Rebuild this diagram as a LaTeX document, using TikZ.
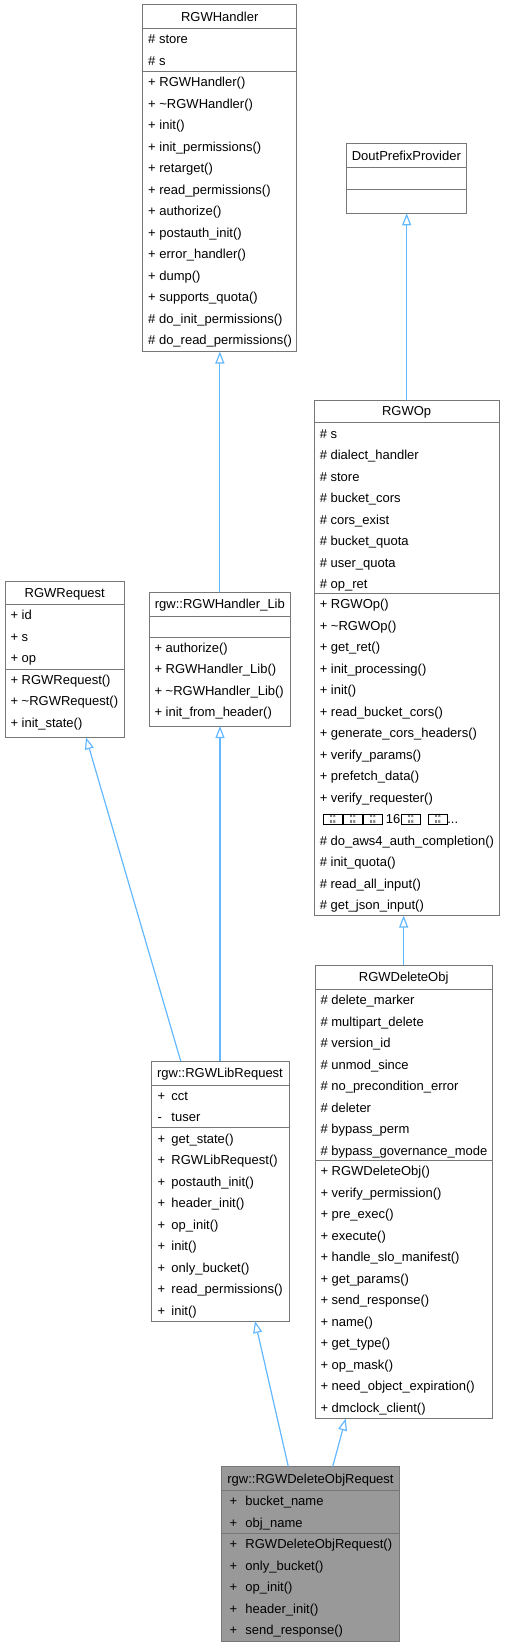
\documentclass[tikz,border=0pt]{standalone}
\usepackage{fontspec}
\setmainfont{Liberation Sans}
\usetikzlibrary{arrows.meta,calc}
\definecolor{boxline}{HTML}{777777}
\definecolor{edgeblue}{HTML}{63B8FF}
\definecolor{mainfill}{HTML}{999999}
\newcommand\tofu{\raisebox{1.5pt}{\setlength\fboxsep{0pt}\setlength\fboxrule{0.8pt}\fbox{\parbox[c][9.6pt][c]{17.4pt}{\centering\fontsize{4.5}{6}\selectfont 8\,8\\8\,8}}}}
\newcommand\tofuline{\hspace*{3.5pt}\tofu\hspace{1pt}\tofu\hspace{1pt}\tofu\hspace{3.6pt}16\hspace{1pt}\tofu\hspace{8pt}\tofu...}
\newcommand\umlrows[5]{%
  \foreach \txt [count=\i] in {#5} {
    \node[member] (#1\i) at ({#2},{#3+(\i-0.5)*#4+4.6}) {\txt};
  }%
}
\tikzset{
  umlbox/.style={draw=boxline, line width=1pt, fill=white, inner sep=0pt, outer sep=0pt, anchor=north west},
  mainbox/.style={umlbox, fill=mainfill},
  sepline/.style={draw=boxline, line width=1pt},
  member/.style={inner sep=0pt, outer sep=0pt, anchor=base west, font=\fontsize{13}{15}\selectfont},
  boxtitle/.style={inner sep=0pt, outer sep=0pt, anchor=base, font=\fontsize{13}{15}\selectfont},
  inherit/.style={draw=edgeblue, line width=1.2pt, -{Triangle[open, length=12pt, width=9pt, fill=white]}},
}
\begin{document}
\begin{tikzpicture}[x=1pt,y=-1pt]
\useasboundingbox (0,0) rectangle (504,1648);

% ---------- RGWHandler
\node[umlbox, minimum width=154pt, minimum height=346.5pt] (handler) at (142.7,5) {};
\draw[sepline] ([yshift=-23.5pt]handler.north west) -- ([yshift=-23.5pt]handler.north east);
\draw[sepline] ([yshift=-66.5pt]handler.north west) -- ([yshift=-66.5pt]handler.north east);
\node[boxtitle] (handlerT) at (219.7,21.35) {RGWHandler};
\umlrows{handlerA}{148.2}{28.5}{21.5}{{\# store},{\# s}}
\umlrows{handlerM}{148.2}{71.5}{21.5}{{+ RGWHandler()},{+ \textasciitilde RGWHandler()},{+ init()},{+ init\_permissions()},{+ retarget()},{+ read\_permissions()},{+ authorize()},{+ postauth\_init()},{+ error\_handler()},{+ dump()},{+ supports\_quota()},{\# do\_init\_permissions()},{\# do\_read\_permissions()}}

% ---------- DoutPrefixProvider
\node[umlbox, minimum width=119.3pt, minimum height=70pt] (dout) at (346.7,143.3) {};
\draw[sepline] ([yshift=-24.4pt]dout.north west) -- ([yshift=-24.4pt]dout.north east);
\draw[sepline] ([yshift=-46pt]dout.north west) -- ([yshift=-46pt]dout.north east);
\node[boxtitle] (doutT) at (406.35,160.1) {DoutPrefixProvider};

% ---------- RGWRequest
\node[umlbox, minimum width=119.5pt, minimum height=155.6pt] (request) at (5,581.7) {};
\draw[sepline] ([yshift=-22.6pt]request.north west) -- ([yshift=-22.6pt]request.north east);
\draw[sepline] ([yshift=-87.3pt]request.north west) -- ([yshift=-87.3pt]request.north east);
\node[boxtitle] (requestT) at (64.75,597.6) {RGWRequest};
\umlrows{requestA}{10.5}{604.3}{21.5}{{+ id},{+ s},{+ op}}
\umlrows{requestM}{10.5}{669}{21.5}{{+ RGWRequest()},{+ \textasciitilde RGWRequest()},{+ init\_state()}}

% ---------- rgw::RGWHandler_Lib
\node[umlbox, minimum width=141.7pt, minimum height=133.7pt] (handlerlib) at (149,592.3) {};
\draw[sepline] ([yshift=-23.7pt]handlerlib.north west) -- ([yshift=-23.7pt]handlerlib.north east);
\draw[sepline] ([yshift=-44.7pt]handlerlib.north west) -- ([yshift=-44.7pt]handlerlib.north east);
\node[boxtitle] (handlerlibT) at (219.85,608.75) {rgw::RGWHandler\_Lib};
\umlrows{handlerlibM}{154.5}{637}{21.5}{{+ authorize()},{+ RGWHandler\_Lib()},{+ \textasciitilde RGWHandler\_Lib()},{+ init\_from\_header()}}

% ---------- RGWOp
\node[umlbox, minimum width=184.7pt, minimum height=515.5pt] (op) at (314.3,400) {};
\draw[sepline] ([yshift=-22.7pt]op.north west) -- ([yshift=-22.7pt]op.north east);
\draw[sepline] ([yshift=-193.5pt]op.north west) -- ([yshift=-193.5pt]op.north east);
\node[boxtitle] (opT) at (406.65,415.95) {RGWOp};
\umlrows{opA}{319.8}{422.7}{21.5}{{\# s},{\# dialect\_handler},{\# store},{\# bucket\_cors},{\# cors\_exist},{\# bucket\_quota},{\# user\_quota},{\# op\_ret}}
\umlrows{opM}{319.8}{593.5}{21.5}{{+ RGWOp()},{+ \textasciitilde RGWOp()},{+ get\_ret()},{+ init\_processing()},{+ init()},{+ read\_bucket\_cors()},{+ generate\_cors\_headers()},{+ verify\_params()},{+ prefetch\_data()},{+ verify\_requester()},{\tofuline},{\# do\_aws4\_auth\_completion()},{\# init\_quota()},{\# read\_all\_input()},{\# get\_json\_input()}}

% ---------- RGWDeleteObj
\node[umlbox, minimum width=177.3pt, minimum height=453.5pt] (delobj) at (315,965) {};
\draw[sepline] ([yshift=-24.3pt]delobj.north west) -- ([yshift=-24.3pt]delobj.north east);
\draw[sepline] ([yshift=-195.5pt]delobj.north west) -- ([yshift=-195.5pt]delobj.north east);
\node[boxtitle] (delobjT) at (403.65,981.75) {RGWDeleteObj};
\umlrows{delobjA}{320.5}{989.3}{21.5}{{\# delete\_marker},{\# multipart\_delete},{\# version\_id},{\# unmod\_since},{\# no\_precondition\_error},{\# deleter},{\# bypass\_perm},{\# bypass\_governance\_mode}}
\umlrows{delobjM}{320.5}{1160.5}{21.5}{{+ RGWDeleteObj()},{+ verify\_permission()},{+ pre\_exec()},{+ execute()},{+ handle\_slo\_manifest()},{+ get\_params()},{+ send\_response()},{+ name()},{+ get\_type()},{+ op\_mask()},{+ need\_object\_expiration()},{+ dmclock\_client()}}

% ---------- rgw::RGWLibRequest
\node[umlbox, minimum width=138pt, minimum height=260pt] (libreq) at (151,1061) {};
\draw[sepline] ([yshift=-24pt]libreq.north west) -- ([yshift=-24pt]libreq.north east);
\draw[sepline] ([yshift=-66.7pt]libreq.north west) -- ([yshift=-66.7pt]libreq.north east);
\node[boxtitle] (libreqT) at (220,1077.6) {rgw::RGWLibRequest};
\umlrows{libreqA}{157.5}{1085}{21.5}{{\makebox[14pt][l]{+}cct},{\makebox[14pt][l]{-}tuser}}
\umlrows{libreqM}{157.5}{1127.7}{21.5}{{\makebox[14pt][l]{+}get\_state()},{\makebox[14pt][l]{+}RGWLibRequest()},{\makebox[14pt][l]{+}postauth\_init()},{\makebox[14pt][l]{+}header\_init()},{\makebox[14pt][l]{+}op\_init()},{\makebox[14pt][l]{+}init()},{\makebox[14pt][l]{+}only\_bucket()},{\makebox[14pt][l]{+}read\_permissions()},{\makebox[14pt][l]{+}init()}}

% ---------- rgw::RGWDeleteObjRequest
\node[mainbox, minimum width=177.6pt, minimum height=174.5pt] (delreq) at (221.7,1466.5) {};
\draw[sepline] ([yshift=-23.8pt]delreq.north west) -- ([yshift=-23.8pt]delreq.north east);
\draw[sepline] ([yshift=-66.8pt]delreq.north west) -- ([yshift=-66.8pt]delreq.north east);
\node[boxtitle] (delreqT) at (310.5,1483) {rgw::RGWDeleteObjRequest};
\umlrows{delreqA}{229.5}{1490.3}{21.5}{{\makebox[16pt][l]{+}bucket\_name},{\makebox[16pt][l]{+}obj\_name}}
\umlrows{delreqM}{229.5}{1533.3}{21.5}{{\makebox[16pt][l]{+}RGWDeleteObjRequest()},{\makebox[16pt][l]{+}only\_bucket()},{\makebox[16pt][l]{+}op\_init()},{\makebox[16pt][l]{+}header\_init()},{\makebox[16pt][l]{+}send\_response()}}

% ---------- inheritance connectors
\draw[inherit] (handlerlib.north) -- (handlerlib.north |- handler.south);
\draw[inherit] (op.north) -- (op.north |- dout.south);
\draw[inherit] (delobj.north) -- (delobj.north |- op.south);
\draw[inherit] ([xshift=29.7pt]libreq.north west) -- ([xshift=81pt]request.south west);
\draw[inherit] (libreq.north) -- (libreq.north |- handlerlib.south);
\draw[inherit] ([xshift=66.6pt]delreq.north west) -- ([xshift=104pt]libreq.south west);
\draw[inherit] ([xshift=111pt]delreq.north west) -- ([xshift=30.7pt]delobj.south west);
\end{tikzpicture}
\end{document}
